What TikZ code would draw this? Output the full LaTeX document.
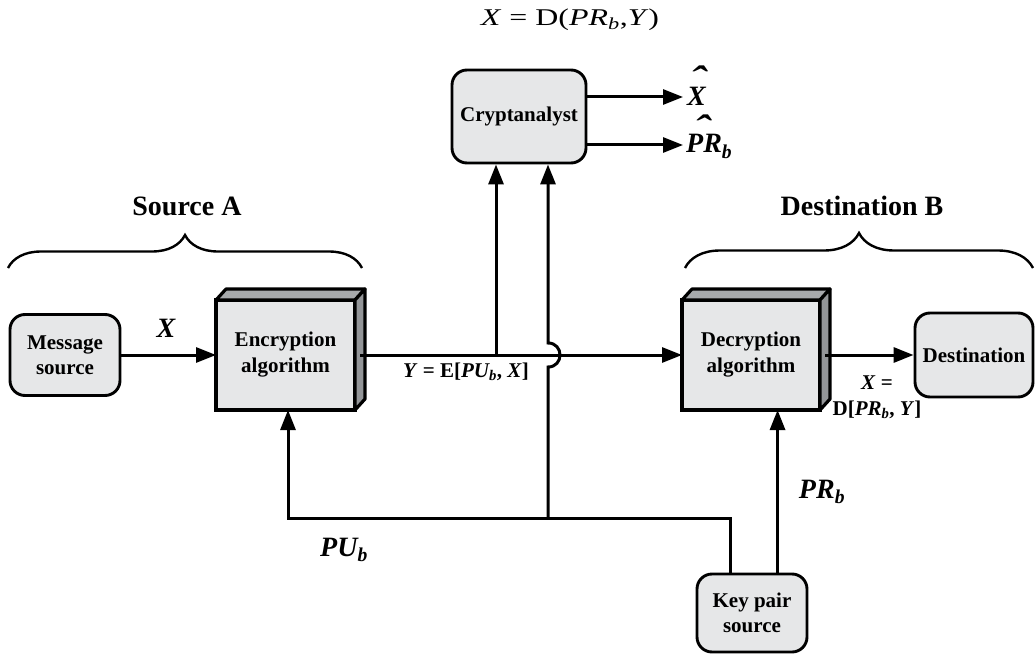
\documentclass[tikz,border=0pt]{standalone}
\usepackage{fontspec}
\setmainfont{Liberation Serif}
\usetikzlibrary{arrows.meta,decorations.pathreplacing,calc}
\definecolor{boxgray}{HTML}{E6E7E8}
\definecolor{topgray}{HTML}{A7A9AC}
\definecolor{sidegray}{HTML}{939598}
\newcommand{\hatover}[3]{\leavevmode\rlap{\hspace{#1}\raisebox{#2}{\scalebox{1.7}[1.35]{\char"02C6}}}#3}
\begin{document}
\begin{tikzpicture}[x=1pt,y=-1pt,
  rbox/.style={draw, line width=2.9pt, rounded corners=15pt, fill=boxgray, inner sep=0pt, align=center, font=\bfseries\fontsize{21}{25}\selectfont},
  cube/.style={draw, line width=3.2pt, fill=boxgray, inner sep=0pt, outer sep=0pt, align=center, minimum width=139pt, minimum height=110pt, font=\bfseries\fontsize{21}{26}\selectfont},
  face/.style={draw, line width=3.2pt, line join=round},
  conn/.style={line width=3pt},
  arr/.style={conn, -{Triangle[length=20pt,width=15pt]}},
  lbl/.style={font=\bfseries\itshape\fontsize{28}{30}\selectfont, inner sep=0pt},
  sml/.style={font=\bfseries\fontsize{21}{26}\selectfont, inner sep=0pt, align=center},
  head/.style={font=\bfseries\fontsize{28}{30}\selectfont, inner sep=0pt},
  brc/.style={line width=2.4pt, decorate, decoration={brace, amplitude=#1}},
]
\useasboundingbox (0,0) rectangle (1035,655);

% top formula
\node[font=\fontsize{24}{26}\selectfont, inner sep=0pt] (formula) at (570,20) {\scalebox{1.33}[1]{\textit{X} = D(\textit{PR}\textsubscript{\textit{b}},\textit{Y})}};

% group headings and braces
\node[head, anchor=base] (srcA) at (187,215) {Source A};
\node[head, anchor=base] (dstB) at (862,215) {Destination B};
\coordinate (bA1) at (8,268);
\coordinate (bA2) at (362,268);
\coordinate (bB1) at (685,268);
\coordinate (bB2) at (1033,268);
\draw[brc=33pt] (bA1) -- (bA2);
\draw[brc=35pt] (bB1) -- (bB2);

% boxes
\node[rbox, minimum width=110pt, minimum height=81pt] (msg) at (65,355) {Message\\source};
\node[cube] (enc) at (285.5,355) {Encryption\\algorithm};
\node[cube, minimum width=138pt] (dec) at (751,355) {Decryption\\algorithm};
\node[rbox, minimum width=118pt, minimum height=84pt] (dest) at (974,355) {Destination};
\node[rbox, minimum width=134pt, minimum height=93pt] (crypt) at (519,116.5) {Cryptanalyst};
\node[rbox, minimum width=110pt, minimum height=78pt] (key) at (752,613) {Key pair\\source};

% 3D faces
\foreach \b in {enc,dec}{
  \draw[face, fill=topgray] (\b.north west) -- ++(10,-11) -- ($(\b.north east)+(10,-11)$) -- (\b.north east) -- cycle;
  \draw[face, fill=sidegray] (\b.north east) -- ++(10,-11) -- ($(\b.south east)+(10,-11)$) -- (\b.south east) -- cycle;
}

% connectors
\draw[arr] (msg.east) -- (enc.west);
\node[lbl, anchor=base] (lx) at (166,337) {X};

\draw[arr] ($(enc.east)+(5,0)$) -- (dec.west);
\node[sml, anchor=base] (ly) at (466,377) {\textit{Y} = E[\textit{PU\textsubscript{b}}, \textit{X}]};

\coordinate (tap) at (496,355);
\draw[arr] (tap) -- (tap |- crypt.south);

\coordinate (bl) at (288,518);
\coordinate (bm) at (548,518);
\coordinate (k1) at ($(key.north west)+(35,0)$);
\coordinate (k2) at ($(key.north west)+(82,0)$);
\draw[arr] (k1) |- (bl) -- (bl |- enc.south);
\draw[arr] (bm) -- (548,367) .. controls (564,367) and (564,343) .. (548,343) -- (bm |- crypt.south);
\draw[arr] (k2) -- (k2 |- dec.south);

\node[lbl, anchor=base] (lpu) at (344,556) {PU\textsubscript{b}};
\node[lbl, anchor=base] (lpr) at (822,498) {PR\textsubscript{b}};

\draw[arr] ($(dec.east)+(5,0)$) -- (dest.west);
\node[sml] (lxd) at (877,397) {\textit{X} =\\D[\textit{PR\textsubscript{b}}, \textit{Y}]};

% cryptanalyst outputs
\coordinate (o1) at (683,97);
\coordinate (o2) at (683,145);
\draw[arr] (crypt.east |- o1) -- (o1);
\draw[arr] (crypt.east |- o2) -- (o2);
\node[lbl, anchor=base west] (xhat) at (687,106) {\hatover{3pt}{13pt}{X}};
\node[lbl, anchor=base west] (prhat) at (686,153) {\hatover{8pt}{11pt}{PR\textsubscript{b}}};
\end{tikzpicture}
\end{document}
